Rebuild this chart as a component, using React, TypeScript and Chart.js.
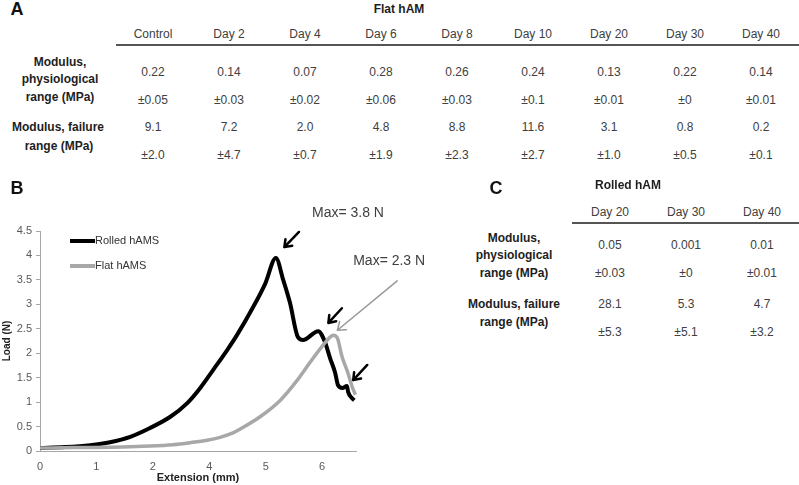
import React, { useEffect, useRef } from 'react';
import { Chart, registerables } from 'chart.js';

Chart.register(...registerables);

// ---------- Table A: Flat hAM ----------
const flatDays = ['Control', 'Day 2', 'Day 4', 'Day 6', 'Day 8', 'Day 10', 'Day 20', 'Day 30', 'Day 40'];
const flatPhysMean = ['0.22', '0.14', '0.07', '0.28', '0.26', '0.24', '0.13', '0.22', '0.14'];
const flatPhysSd = ['±0.05', '±0.03', '±0.02', '±0.06', '±0.03', '±0.1', '±0.01', '±0', '±0.01'];
const flatFailMean = ['9.1', '7.2', '2.0', '4.8', '8.8', '11.6', '3.1', '0.8', '0.2'];
const flatFailSd = ['±2.0', '±4.7', '±0.7', '±1.9', '±2.3', '±2.7', '±1.0', '±0.5', '±0.1'];

// ---------- Table C: Rolled hAM ----------
const rolledDays = ['Day 20', 'Day 30', 'Day 40'];
const rolledPhysMean = ['0.05', '0.001', '0.01'];
const rolledPhysSd = ['±0.03', '±0', '±0.01'];
const rolledFailMean = ['28.1', '5.3', '4.7'];
const rolledFailSd = ['±5.3', '±5.1', '±3.2'];

// ---------- Chart B: load vs extension ----------
const xTickLabels = ['0', '1', '2', '4', '5', '6'];
const rolledX = [0, 0.44, 0.89, 1.24, 1.6, 1.95, 2.31, 2.61, 2.84, 3.07, 3.32, 3.49, 3.78, 3.99, 4.18, 4.31, 4.43, 4.57, 4.66, 4.93, 5.05, 5.14, 5.23, 5.28, 5.36, 5.44, 5.46, 5.53, 5.57];
const rolledY = [0.06, 0.08, 0.12, 0.18, 0.29, 0.47, 0.7, 0.98, 1.29, 1.66, 2.07, 2.37, 2.95, 3.42, 3.95, 3.5, 3.03, 2.33, 2.27, 2.45, 2.23, 1.9, 1.6, 1.35, 1.29, 1.33, 1.21, 1.08, 1.04];
const flatX = [0, 0.6, 1.47, 1.95, 2.36, 2.66, 2.96, 3.19, 3.42, 3.55, 3.9, 4.26, 4.56, 4.79, 5.02, 5.14, 5.2, 5.27, 5.35, 5.45, 5.53, 5.59];
const flatY = [0.06, 0.07, 0.08, 0.1, 0.13, 0.17, 0.22, 0.28, 0.37, 0.45, 0.7, 1.04, 1.45, 1.82, 2.17, 2.33, 2.37, 2.31, 1.94, 1.62, 1.32, 1.15];
const seriesLabels = ['Rolled hAMS', 'Flat hAMS'];
const seriesColors = ['#000000', '#a8a8a8'];

const maxLabels = [
  { text: 'Max= 3.8 N', x: 4.82, y: 4.87 },
  { text: 'Max= 2.3 N', x: 5.55, y: 3.89 },
];
const arrows = [
  { x1: 4.59, y1: 4.48, x2: 4.33, y2: 4.17, color: '#000000', width: 2.5, head: 8 },
  { x1: 5.35, y1: 2.92, x2: 5.11, y2: 2.62, color: '#000000', width: 2.5, head: 8 },
  { x1: 5.8, y1: 1.76, x2: 5.55, y2: 1.45, color: '#000000', width: 2.5, head: 8 },
  { x1: 6.33, y1: 3.48, x2: 5.27, y2: 2.47, color: '#999999', width: 1.5, head: 9 },
];

const FONT = '"Liberation Sans", Arial, Helvetica, sans-serif';

const overlayPlugin = {
  id: 'overlay',
  afterDatasetsDraw(chart: any) {
    const { ctx, chartArea, scales } = chart;
    const xs = scales.x;
    const ys = scales.y;
    ctx.save();
    // legend inside chart area
    chart.data.datasets.forEach((ds: any, i: number) => {
      const ly = chartArea.top + 10 + i * 25;
      ctx.strokeStyle = ds.borderColor;
      ctx.lineWidth = 4;
      ctx.lineCap = 'butt';
      ctx.beginPath();
      ctx.moveTo(chartArea.left + 30, ly);
      ctx.lineTo(chartArea.left + 55, ly);
      ctx.stroke();
      ctx.fillStyle = '#333333';
      ctx.font = `11px ${FONT}`;
      ctx.textAlign = 'left';
      ctx.textBaseline = 'middle';
      ctx.fillText(ds.label, chartArea.left + 55, ly);
    });
    // arrows
    arrows.forEach((a) => {
      const x1 = xs.getPixelForValue(a.x1);
      const y1 = ys.getPixelForValue(a.y1);
      const x2 = xs.getPixelForValue(a.x2);
      const y2 = ys.getPixelForValue(a.y2);
      ctx.strokeStyle = a.color;
      ctx.lineWidth = a.width;
      ctx.lineCap = 'round';
      ctx.lineJoin = 'round';
      ctx.beginPath();
      ctx.moveTo(x1, y1);
      ctx.lineTo(x2, y2);
      const ang = Math.atan2(y2 - y1, x2 - x1);
      const spread = Math.PI / 5;
      ctx.moveTo(x2 - a.head * Math.cos(ang - spread), y2 - a.head * Math.sin(ang - spread));
      ctx.lineTo(x2, y2);
      ctx.lineTo(x2 - a.head * Math.cos(ang + spread), y2 - a.head * Math.sin(ang + spread));
      ctx.stroke();
    });
    // max labels
    ctx.fillStyle = '#404040';
    ctx.font = `14px ${FONT}`;
    ctx.textAlign = 'left';
    ctx.textBaseline = 'middle';
    maxLabels.forEach((m) => {
      ctx.fillText(m.text, xs.getPixelForValue(m.x), ys.getPixelForValue(m.y));
    });
    ctx.restore();
  },
};

function ChartB() {
  const ref = useRef<HTMLCanvasElement | null>(null);
  useEffect(() => {
    if (!ref.current) return;
    const chart = new Chart(ref.current, {
      type: 'line',
      data: {
        datasets: [
          {
            label: seriesLabels[0],
            data: rolledX.map((x, i) => ({ x, y: rolledY[i] })),
            borderColor: seriesColors[0],
            backgroundColor: seriesColors[0],
            borderWidth: 4,
            pointRadius: 0,
            cubicInterpolationMode: 'monotone',
            borderJoinStyle: 'round',
            order: 1,
            clip: false as any,
          },
          {
            label: seriesLabels[1],
            data: flatX.map((x, i) => ({ x, y: flatY[i] })),
            borderColor: seriesColors[1],
            backgroundColor: seriesColors[1],
            borderWidth: 3.5,
            pointRadius: 0,
            cubicInterpolationMode: 'monotone',
            borderJoinStyle: 'round',
            order: 0,
            clip: false as any,
          },
        ],
      },
      options: {
        animation: false,
        responsive: false,
        maintainAspectRatio: false,
        layout: { padding: { left: 0, top: 61, right: 84, bottom: 0 } },
        plugins: { legend: { display: false }, tooltip: { enabled: false } },
        scales: {
          x: {
            type: 'linear',
            min: 0,
            max: 5.6,
            afterFit: (s: any) => { s.height = 34; },
            grid: { display: false, drawTicks: false },
            border: { display: true, color: '#a6a6a6', width: 1 },
            ticks: {
              stepSize: 1,
              autoSkip: false,
              maxRotation: 0,
              includeBounds: false,
              padding: 9,
              color: '#595959',
              font: { family: FONT, size: 11 },
              callback: (v: any) => {
                const i = Math.round(Number(v));
                if (Math.abs(Number(v) - i) > 1e-6) return '';
                return xTickLabels[i] ?? '';
              },
            },
            title: {
              display: true,
              text: 'Extension (mm)',
              color: '#222222',
              font: { family: FONT, size: 11, weight: 'bold' },
              padding: { top: 0, bottom: 0 },
            },
          },
          y: {
            type: 'linear',
            min: 0,
            max: 4.5,
            afterFit: (s: any) => { s.width = 40; },
            grid: { display: true, drawOnChartArea: false, drawTicks: true, tickLength: 4, color: '#a6a6a6' },
            border: { display: true, color: '#a6a6a6', width: 1 },
            ticks: {
              stepSize: 0.5,
              padding: 4,
              color: '#595959',
              font: { family: FONT, size: 11 },
              callback: (v: any) => String(v),
            },
            title: {
              display: true,
              text: 'Load (N)',
              color: '#222222',
              font: { family: FONT, size: 10, weight: 'bold' },
              padding: { top: 1, bottom: 0 },
            },
          },
        },
      },
      plugins: [overlayPlugin],
    } as any);
    return () => chart.destroy();
  }, []);
  return (
    <canvas
      ref={ref}
      width={440}
      height={315}
      style={{ position: 'absolute', left: 0, top: 170, width: 440, height: 315 }}
    />
  );
}

function T({ x, y, children, bold = false, size = 12, color = '#404040' }: any) {
  return (
    <span
      style={{
        position: 'absolute',
        left: x,
        top: y,
        transform: 'translate(-50%, -50%)',
        whiteSpace: 'nowrap',
        fontFamily: FONT,
        fontSize: size,
        fontWeight: bold ? 'bold' : 'normal',
        color,
        lineHeight: 1,
      }}
    >
      {children}
    </span>
  );
}

export default function App() {
  useEffect(() => {
    document.body.style.margin = '0';
  }, []);
  const colA = (i: number) => 153 + i * 76;
  const colC = (i: number) => 610 + i * 76;
  const labelColor = '#1e1e1e';
  return (
    <div style={{ position: 'absolute', left: 0, top: 0, width: 799, height: 485, background: '#ffffff', overflow: 'hidden' }}>
      <ChartB />
      {/* Panel letters */}
      <T x={17} y={9} bold size={18} color="#111">A</T>
      <T x={17} y={188} bold size={18} color="#111">B</T>
      <T x={496} y={188} bold size={18} color="#111">C</T>

      {/* Table A */}
      <T x={399} y={9} bold color={labelColor}>Flat hAM</T>
      {flatDays.map((d, i) => (
        <T key={'fd' + i} x={colA(i)} y={34}>{d}</T>
      ))}
      <div style={{ position: 'absolute', left: 116, top: 44, width: 683, height: 2, background: '#555555' }} />
      <T x={60} y={62} bold color={labelColor}>Modulus,</T>
      <T x={60} y={79} bold color={labelColor}>physiological</T>
      <T x={60} y={97} bold color={labelColor}>range (MPa)</T>
      <T x={58} y={127} bold color={labelColor}>Modulus, failure</T>
      <T x={59} y={146} bold color={labelColor}>range (MPa)</T>
      {flatPhysMean.map((v, i) => (
        <T key={'fpm' + i} x={colA(i)} y={72}>{v}</T>
      ))}
      {flatPhysSd.map((v, i) => (
        <T key={'fps' + i} x={colA(i)} y={100}>{v}</T>
      ))}
      {flatFailMean.map((v, i) => (
        <T key={'ffm' + i} x={colA(i)} y={127}>{v}</T>
      ))}
      {flatFailSd.map((v, i) => (
        <T key={'ffs' + i} x={colA(i)} y={155}>{v}</T>
      ))}

      {/* Table C */}
      <T x={628} y={185} bold color={labelColor}>Rolled hAM</T>
      {rolledDays.map((d, i) => (
        <T key={'rd' + i} x={colC(i)} y={212}>{d}</T>
      ))}
      <div style={{ position: 'absolute', left: 572, top: 222, width: 227, height: 2, background: '#555555' }} />
      <T x={514} y={238} bold color={labelColor}>Modulus,</T>
      <T x={514} y={255} bold color={labelColor}>physiological</T>
      <T x={514} y={273} bold color={labelColor}>range (MPa)</T>
      <T x={514} y={304} bold color={labelColor}>Modulus, failure</T>
      <T x={514} y={322} bold color={labelColor}>range (MPa)</T>
      {rolledPhysMean.map((v, i) => (
        <T key={'rpm' + i} x={colC(i)} y={245}>{v}</T>
      ))}
      {rolledPhysSd.map((v, i) => (
        <T key={'rps' + i} x={colC(i)} y={273}>{v}</T>
      ))}
      {rolledFailMean.map((v, i) => (
        <T key={'rfm' + i} x={colC(i)} y={304}>{v}</T>
      ))}
      {rolledFailSd.map((v, i) => (
        <T key={'rfs' + i} x={colC(i)} y={332}>{v}</T>
      ))}
    </div>
  );
}
